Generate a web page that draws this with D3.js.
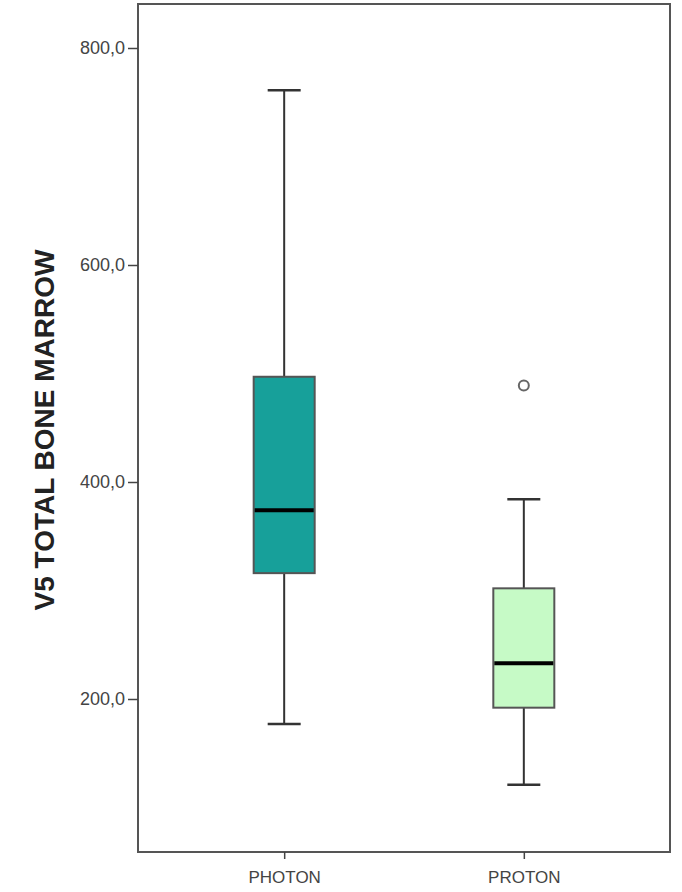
<!DOCTYPE html>
<html>
<head>
<meta charset="utf-8">
<script src="https://cdn.jsdelivr.net/npm/d3@7"></script>
<style>
  body { margin: 0; background: #fff; }
  svg { display: block; }
  text { font-family: "Liberation Sans", Arial, sans-serif; }
</style>
</head>
<body>
<svg width="682" height="892"></svg>
<script>
var svg = d3.select("svg");

// data
var groups = ["PHOTON", "PROTON"];
var lowWhisker = [177, 121];
var q1 = [316, 192];
var median = [374, 233];
var q3 = [497, 302];
var highWhisker = [761, 384];
var outliers = [[], [489]];
var fills = ["#17a09a", "#c6fac6"];
var yTicks = [200, 400, 600, 800];

var frame = {left: 138, right: 670, top: 4, bottom: 852};

var y = d3.scaleLinear()
    .domain([200, 800])
    .range([699, 48]);

var x = d3.scalePoint()
    .domain(groups)
    .range([frame.left, frame.right])
    .padding(0.61);

var boxW = 61, capW = 33;

// frame
svg.append("rect")
    .attr("x", frame.left)
    .attr("y", frame.top)
    .attr("width", frame.right - frame.left)
    .attr("height", frame.bottom - frame.top)
    .attr("fill", "none")
    .attr("stroke", "#555")
    .attr("stroke-width", 2);

// y axis
var yAxis = svg.append("g")
    .attr("transform", "translate(" + frame.left + ",0)")
    .call(d3.axisLeft(y).tickValues(yTicks).tickSize(10)
        .tickFormat(function(d) { return d3.format(".1f")(d).replace(".", ","); }));
yAxis.select(".domain").remove();
yAxis.selectAll("line").attr("stroke", "#444").attr("stroke-width", 1.5);
yAxis.selectAll("text")
    .attr("font-size", 18)
    .attr("fill", "#444")
    .attr("font-family", "'Liberation Sans', Arial, sans-serif")
    .attr("x", -13);

// x axis
var xAxis = svg.append("g")
    .attr("transform", "translate(0," + frame.bottom + ")")
    .call(d3.axisBottom(x).tickSize(7));
xAxis.select(".domain").remove();
xAxis.selectAll("line").attr("stroke", "#444").attr("stroke-width", 1.5);
xAxis.selectAll("text")
    .attr("font-size", 17)
    .attr("fill", "#444")
    .attr("font-family", "'Liberation Sans', Arial, sans-serif")
    .attr("y", 19);

// y label
svg.append("text")
    .attr("transform", "translate(54,430) rotate(-90)")
    .attr("text-anchor", "middle")
    .attr("font-size", 28)
    .attr("font-weight", "bold")
    .attr("fill", "#222")
    .text("V5 TOTAL BONE MARROW");

// boxes
var g = svg.append("g");
groups.forEach(function(name, i) {
    var cx = x(name);
    // whiskers
    g.append("line")
        .attr("x1", cx).attr("x2", cx)
        .attr("y1", y(highWhisker[i])).attr("y2", y(q3[i]))
        .attr("stroke", "#333").attr("stroke-width", 2);
    g.append("line")
        .attr("x1", cx).attr("x2", cx)
        .attr("y1", y(q1[i])).attr("y2", y(lowWhisker[i]))
        .attr("stroke", "#333").attr("stroke-width", 2);
    [highWhisker[i], lowWhisker[i]].forEach(function(v) {
        g.append("line")
            .attr("x1", cx - capW / 2).attr("x2", cx + capW / 2)
            .attr("y1", y(v)).attr("y2", y(v))
            .attr("stroke", "#333").attr("stroke-width", 2.5);
    });
    // box
    g.append("rect")
        .attr("x", cx - boxW / 2)
        .attr("y", y(q3[i]))
        .attr("width", boxW)
        .attr("height", y(q1[i]) - y(q3[i]))
        .attr("fill", fills[i])
        .attr("stroke", "#555")
        .attr("stroke-width", 2);
    // median
    g.append("line")
        .attr("x1", cx - boxW / 2 + 1).attr("x2", cx + boxW / 2 - 1)
        .attr("y1", y(median[i])).attr("y2", y(median[i]))
        .attr("stroke", "#000").attr("stroke-width", 4);
    // outliers
    outliers[i].forEach(function(v) {
        g.append("circle")
            .attr("cx", cx).attr("cy", y(v)).attr("r", 5)
            .attr("fill", "#fff")
            .attr("stroke", "#666")
            .attr("stroke-width", 2);
    });
});
</script>
</body>
</html>
